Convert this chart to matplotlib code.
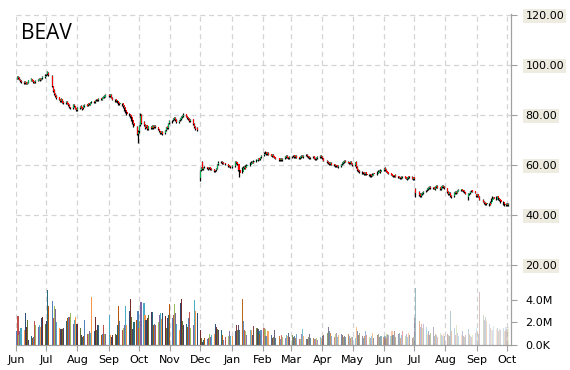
import matplotlib
matplotlib.use('Agg')
import matplotlib.pyplot as plt
import matplotlib.dates as mdates
from matplotlib.colors import to_rgba
import numpy as np
import pandas as pd

ticker = 'BEAV'
first_day = '2014-06-02'
holidays = ['2014-07-04', '2014-09-01', '2014-11-27', '2014-12-25', '2015-01-01', '2015-01-19',
            '2015-02-16', '2015-04-03', '2015-05-25', '2015-07-03', '2015-09-07']

# daily prices, one line per month (Jun 2014 .. Oct 2015)
opens = [
    94.6, 95.2, 94.9, 94.0, 93.6, 93.4, 92.8, 93.2, 92.5, 93.0, 93.8, 94.4, 93.9, 93.3, 93.1, 93.7, 94.1, 94.6, 94.1, 94.7, 95.2,
    95.9, 96.3, 97.0, 95.6, 91.4, 89.9, 88.6, 87.7, 87.1, 86.3, 85.7, 86.3, 85.1, 84.7, 85.3, 84.7, 84.1, 83.0, 82.9, 84.1, 83.4, 82.7,
    82.1, 82.9, 83.5, 83.1, 82.7, 83.6, 84.2, 83.9, 84.7, 84.2, 85.1, 85.5, 85.2, 85.9, 86.3, 86.1, 86.7, 86.2, 87.0, 87.3, 87.4,
    87.9, 87.7, 88.1, 86.9, 86.3, 85.5, 85.8, 84.9, 84.4, 84.7, 83.9, 83.1, 81.9, 81.1, 80.5, 79.9, 79.3, 77.9, 76.7, 75.3, 72.4,
    73.6, 76.0, 80.2, 77.1, 76.1, 75.1, 75.9, 74.5, 75.3, 74.9, 75.5, 75.1, 75.7, 75.1, 74.3, 73.5, 72.9, 73.3, 72.7, 73.9, 75.1, 74.9, 76.7,
    77.5, 77.9, 78.3, 78.9, 78.1, 77.1, 77.9, 78.5, 79.3, 79.7, 80.3, 79.5, 78.9, 78.5, 77.7, 78.3, 76.5, 75.3, 74.8,
    54.8, 58.0, 61.2, 58.6, 59.1, 59.1, 58.9, 58.7, 59.1, 58.5, 58.3, 57.5, 57.9, 58.5, 60.3, 61.1, 61.3, 60.9, 60.7, 60.3, 59.7, 59.5,
    59.3, 59.7, 61.3, 61.1, 60.3, 58.1, 57.1, 58.9, 59.3, 58.7, 59.7, 60.1, 60.9, 61.3, 61.1, 61.7, 62.1, 62.7, 62.3, 63.1,
    63.9, 64.7, 65.1, 64.3, 64.9, 64.3, 63.7, 64.1, 63.5, 63.1, 62.7, 62.1, 62.5, 62.1, 62.7, 63.3, 63.7, 63.1, 62.7,
    63.1, 63.5, 63.9, 63.1, 63.7, 63.1, 62.7, 63.3, 63.7, 63.3, 63.9, 64.1, 63.5, 63.3, 62.7, 63.1, 63.5, 62.5, 62.5, 62.9, 63.3, 63.7,
    63.3, 62.7, 61.7, 61.3, 60.9, 60.3, 60.9, 60.3, 60.1, 59.5, 59.9, 59.3, 59.7, 60.3, 60.9, 61.3, 61.7, 61.3, 60.9, 60.7, 61.3,
    60.5, 60.1, 61.1, 59.3, 58.1, 57.7, 57.3, 56.9, 56.5, 57.1, 56.5, 56.3, 56.1, 55.5, 56.1, 56.7, 56.3, 57.1, 57.7, 57.3,
    58.1, 58.8, 58.1, 57.5, 57.1, 56.7, 56.3, 55.9, 55.5, 56.0, 55.5, 55.3, 55.1, 54.7, 55.1, 55.5, 55.1, 54.5, 54.9, 55.5, 55.3, 54.5,
    55.1, 50.6, 49.1, 48.3, 47.7, 48.5, 48.9, 49.5, 49.9, 50.5, 50.9, 51.3, 50.7, 51.1, 50.5, 51.3, 51.7, 51.1, 50.5, 51.3, 51.7, 51.3,
    50.7, 49.3, 48.3, 48.9, 47.7, 47.5, 48.9, 49.3, 48.9, 49.7, 50.1, 50.3, 49.9, 49.7, 49.1, 47.2, 48.5, 48.7, 49.5, 49.9, 49.5,
    48.3, 47.7, 48.3, 47.3, 46.1, 45.3, 44.9, 44.3, 44.7, 44.3, 45.3, 46.5, 47.1, 46.5, 47.5, 46.9, 46.3, 45.9, 45.3, 44.3, 43.9,
    44.5, 43.9,
]
highs = [
    95.6, 95.5, 95.1, 94.3, 93.9, 93.6, 93.5, 93.4, 93.1, 94.2, 94.7, 94.6, 94.1, 93.5, 93.9, 94.5, 94.9, 94.8, 94.9, 95.6, 96.3,
    96.6, 97.6, 97.3, 95.9, 91.8, 90.3, 88.9, 88.0, 87.4, 86.6, 86.8, 86.6, 85.5, 85.6, 85.6, 85.0, 84.4, 83.4, 84.6, 84.5, 83.8, 83.0,
    83.3, 83.8, 83.9, 83.4, 83.9, 84.5, 84.5, 85.0, 85.0, 85.4, 85.8, 85.8, 86.2, 86.6, 86.6, 87.0, 87.0, 87.3, 87.6, 87.9, 88.4,
    88.3, 88.6, 88.4, 87.2, 86.6, 86.2, 86.1, 85.2, 85.1, 85.0, 84.2, 83.4, 82.3, 81.5, 80.9, 80.2, 79.6, 78.3, 77.0, 75.6, 74.0,
    76.1, 80.8, 80.6, 77.5, 76.5, 76.2, 76.2, 75.8, 75.6, 75.9, 75.9, 76.2, 76.0, 75.4, 74.6, 73.8, 73.8, 73.7, 74.2, 75.4, 75.5, 77.0, 78.0,
    78.2, 78.8, 79.2, 79.2, 78.4, 78.2, 79.0, 79.6, 80.2, 80.9, 80.6, 79.8, 79.2, 78.8, 78.6, 78.6, 76.9, 75.8, 75.1,
    58.2, 59.4, 61.8, 59.4, 59.6, 59.4, 59.2, 59.3, 59.4, 58.8, 58.6, 58.2, 58.8, 60.6, 61.5, 61.7, 61.6, 61.2, 60.9, 60.6, 60.0, 59.8,
    60.0, 61.6, 61.6, 61.4, 60.6, 58.4, 59.2, 59.6, 59.6, 59.9, 60.4, 61.2, 61.6, 61.6, 61.9, 62.4, 63.0, 63.0, 63.4, 64.2,
    65.4, 65.5, 65.4, 65.1, 65.2, 64.5, 64.3, 64.4, 63.7, 63.4, 62.9, 62.8, 62.7, 62.9, 63.5, 63.9, 64.0, 63.4, 63.5,
    63.7, 64.1, 64.2, 63.9, 64.0, 63.4, 63.5, 63.9, 64.0, 64.1, 64.4, 64.4, 63.8, 63.6, 63.3, 63.7, 63.8, 62.9, 63.1, 63.5, 63.9, 64.0,
    63.6, 63.0, 62.0, 61.6, 61.2, 61.1, 61.2, 60.6, 60.4, 60.1, 60.2, 59.9, 60.5, 61.1, 61.5, 61.9, 62.0, 61.6, 61.2, 61.5, 61.6,
    60.9, 61.4, 61.6, 59.6, 58.4, 58.0, 57.6, 57.2, 57.3, 57.4, 56.8, 56.6, 56.4, 56.5, 56.9, 57.0, 57.5, 57.9, 58.0, 58.3,
    58.9, 59.1, 58.3, 57.8, 57.4, 57.0, 56.6, 56.2, 56.2, 56.3, 55.8, 55.6, 55.4, 55.5, 55.7, 55.8, 55.4, 55.3, 55.7, 55.8, 55.6, 55.3,
    55.4, 51.0, 49.5, 48.7, 48.8, 49.2, 49.8, 50.2, 50.8, 51.2, 51.6, 51.6, 51.4, 51.4, 51.6, 52.0, 52.0, 51.4, 51.6, 52.0, 52.0, 51.6,
    50.9, 49.6, 49.2, 49.1, 48.0, 49.1, 49.6, 49.5, 49.9, 50.4, 50.6, 50.5, 50.1, 49.9, 49.4, 48.8, 49.0, 49.8, 50.2, 50.1, 49.7,
    48.6, 48.6, 48.6, 47.6, 46.4, 45.6, 45.2, 44.9, 45.0, 45.5, 46.8, 47.6, 47.4, 47.8, 47.8, 47.2, 46.6, 46.2, 45.6, 44.7, 45.0,
    44.8, 44.7,
]
lows = [
    94.3, 94.5, 94.0, 93.3, 92.9, 92.6, 92.6, 92.4, 92.3, 92.8, 93.6, 93.6, 93.0, 92.7, 92.9, 93.5, 93.9, 93.8, 93.9, 94.5, 95.0,
    95.6, 96.0, 95.7, 91.1, 89.4, 88.2, 87.3, 86.6, 85.9, 85.4, 85.4, 84.7, 84.4, 84.5, 84.3, 83.7, 82.8, 82.4, 82.6, 83.2, 82.3, 81.6,
    81.6, 82.5, 82.7, 82.2, 82.4, 83.3, 83.5, 83.6, 84.0, 84.0, 84.8, 84.8, 84.9, 85.6, 85.7, 85.8, 86.0, 86.0, 86.7, 87.0, 87.1,
    87.4, 87.4, 86.7, 85.9, 85.2, 85.2, 84.7, 84.1, 84.1, 83.7, 82.9, 81.7, 80.9, 80.2, 79.6, 79.0, 77.6, 76.4, 75.1, 72.0, 68.8,
    72.8, 75.6, 76.6, 75.8, 74.6, 74.8, 74.2, 74.2, 74.5, 74.6, 74.6, 74.8, 74.8, 74.0, 73.2, 72.4, 72.5, 72.2, 72.4, 73.6, 74.4, 74.6, 76.3,
    77.0, 77.6, 78.0, 77.7, 76.8, 76.8, 77.6, 78.2, 79.0, 79.4, 79.1, 78.4, 78.0, 77.4, 77.4, 76.0, 74.9, 74.2, 73.8,
    53.8, 57.6, 58.0, 58.2, 58.7, 58.5, 58.2, 58.4, 58.1, 57.9, 57.2, 57.2, 57.6, 58.3, 60.0, 60.8, 60.5, 60.3, 60.1, 59.3, 59.1, 58.9,
    58.9, 59.4, 60.6, 60.1, 57.6, 55.2, 56.8, 58.6, 58.3, 58.4, 59.4, 59.8, 60.6, 60.7, 60.8, 61.4, 61.8, 61.9, 62.0, 62.8,
    63.6, 64.3, 64.1, 64.0, 63.9, 63.5, 63.4, 63.1, 62.7, 62.3, 61.8, 61.8, 61.7, 61.8, 62.4, 63.0, 62.7, 62.4, 62.4,
    62.8, 63.2, 62.9, 62.8, 62.7, 62.5, 62.4, 63.0, 63.1, 63.0, 63.6, 63.3, 62.9, 62.5, 62.4, 62.8, 62.3, 62.0, 62.2, 62.6, 63.0, 62.9,
    62.4, 61.5, 60.9, 60.5, 60.1, 60.0, 60.0, 59.7, 59.3, 59.2, 59.1, 59.0, 59.4, 60.0, 60.6, 61.0, 61.1, 60.7, 60.5, 60.4, 60.3,
    59.8, 59.8, 58.8, 57.7, 57.2, 56.9, 56.5, 56.3, 56.2, 56.1, 55.9, 55.7, 55.2, 55.2, 55.8, 56.1, 56.0, 56.8, 57.1, 57.0,
    57.8, 57.8, 57.1, 56.7, 56.3, 55.9, 55.5, 55.3, 55.2, 55.1, 54.9, 54.7, 54.5, 54.4, 54.8, 54.7, 54.3, 54.2, 54.6, 54.9, 54.3, 54.2,
    54.2, 47.2, 47.8, 47.3, 47.4, 48.1, 48.6, 49.2, 49.6, 50.2, 50.6, 50.4, 50.4, 50.3, 50.2, 51.0, 50.7, 50.2, 50.2, 50.9, 50.9, 50.4,
    48.9, 48.1, 48.0, 47.2, 46.8, 47.3, 48.6, 48.6, 48.7, 49.5, 49.8, 49.5, 49.3, 48.9, 48.3, 46.2, 48.0, 48.4, 49.2, 49.1, 48.7,
    47.4, 47.4, 47.1, 45.9, 45.1, 44.5, 44.0, 44.0, 43.8, 44.0, 45.1, 46.3, 46.3, 46.2, 46.5, 46.1, 45.5, 44.9, 44.1, 43.6, 43.6,
    43.6, 43.5,
]
closes = [
    95.0, 94.8, 94.2, 93.5, 93.2, 92.9, 93.1, 92.6, 92.8, 93.9, 94.3, 93.8, 93.2, 93.0, 93.6, 94.2, 94.5, 94.0, 94.6, 95.3, 95.8,
    96.2, 97.1, 96.0, 91.5, 89.8, 88.5, 87.6, 87.0, 86.2, 85.8, 86.4, 85.0, 84.8, 85.2, 84.6, 84.0, 83.1, 82.8, 84.2, 83.5, 82.6, 82.0,
    82.8, 83.4, 83.0, 82.6, 83.5, 84.1, 83.8, 84.6, 84.3, 85.0, 85.4, 85.1, 85.8, 86.2, 86.0, 86.6, 86.3, 86.9, 87.2, 87.5, 87.9,
    87.8, 88.2, 87.0, 86.2, 85.6, 85.9, 85.0, 84.5, 84.8, 84.0, 83.2, 82.0, 81.2, 80.6, 80.0, 79.4, 78.0, 76.8, 75.5, 72.6, 73.4,
    75.6, 79.8, 77.0, 76.2, 75.0, 75.8, 74.6, 75.4, 74.8, 75.6, 75.0, 75.8, 75.2, 74.4, 73.6, 72.8, 73.4, 72.6, 73.8, 75.0, 74.8, 76.6, 77.6,
    77.8, 78.4, 78.8, 78.0, 77.2, 77.8, 78.6, 79.2, 79.8, 80.2, 79.4, 78.8, 78.4, 77.8, 78.2, 76.4, 75.2, 74.6, 74.2,
    57.8, 59.0, 58.4, 59.0, 59.2, 58.8, 58.6, 59.0, 58.4, 58.2, 57.6, 57.8, 58.4, 60.2, 61.0, 61.2, 60.8, 60.6, 60.4, 59.6, 59.4, 59.2,
    59.6, 61.2, 61.0, 60.4, 58.0, 57.0, 58.8, 59.2, 58.6, 59.6, 60.0, 60.8, 61.2, 61.0, 61.6, 62.0, 62.6, 62.2, 63.0, 63.8,
    64.6, 65.0, 64.4, 64.8, 64.2, 63.8, 64.0, 63.4, 63.0, 62.6, 62.2, 62.4, 62.0, 62.6, 63.2, 63.6, 63.0, 62.8, 63.2,
    63.4, 63.8, 63.2, 63.6, 63.0, 62.8, 63.2, 63.6, 63.4, 63.8, 64.0, 63.6, 63.2, 62.8, 63.0, 63.4, 62.6, 62.4, 62.8, 63.2, 63.6, 63.2,
    62.8, 61.8, 61.2, 60.8, 60.4, 60.8, 60.2, 60.0, 59.6, 59.8, 59.4, 59.6, 60.2, 60.8, 61.2, 61.6, 61.4, 61.0, 60.8, 61.2, 60.6,
    60.2, 61.0, 59.2, 58.0, 57.6, 57.2, 56.8, 56.6, 57.0, 56.4, 56.2, 56.0, 55.6, 56.2, 56.6, 56.4, 57.2, 57.6, 57.4, 58.0,
    58.6, 58.0, 57.4, 57.0, 56.6, 56.2, 55.8, 55.6, 55.9, 55.4, 55.2, 55.0, 54.8, 55.2, 55.4, 55.0, 54.6, 55.0, 55.4, 55.2, 54.6, 55.0,
    54.6, 49.0, 48.2, 47.8, 48.4, 48.8, 49.4, 49.8, 50.4, 50.8, 51.2, 50.8, 51.0, 50.6, 51.2, 51.6, 51.0, 50.6, 51.2, 51.6, 51.2, 50.8,
    49.2, 48.4, 48.8, 47.6, 47.4, 48.8, 49.2, 49.0, 49.6, 50.0, 50.2, 49.8, 49.6, 49.2, 48.6, 48.4, 48.6, 49.4, 49.8, 49.4, 49.0,
    47.8, 48.2, 47.4, 46.2, 45.4, 44.8, 44.4, 44.6, 44.2, 45.2, 46.4, 47.0, 46.6, 47.4, 46.8, 46.4, 45.8, 45.2, 44.4, 44.0, 44.6,
    44.0, 44.4,
]
# volume in millions
volumes = [
    1.2, 2.6, 0.9, 1.2, 1.5, 1.3, 2.8, 1.6, 2.2, 0.4, 0.8, 0.6, 0.7, 2.1, 1.8, 1.6, 1.8, 1.6, 2.4, 2.5, 1.9,
    2.1, 4.9, 3.5, 3.9, 2.4, 3.5, 3.2, 2.0, 1.5, 1.4, 1.4, 1.4, 1.5, 2.1, 2.4, 2.5, 2.5, 2.8, 1.9, 2.2, 2.5, 1.9,
    1.9, 1.5, 0.9, 0.7, 0.8, 2.2, 1.0, 1.0, 1.2, 1.1, 4.3, 1.2, 2.5, 1.3, 1.8, 1.8, 0.9, 1.0, 1.8, 1.0, 1.0,
    2.7, 0.9, 0.7, 0.9, 1.0, 0.9, 1.8, 3.5, 2.1, 1.3, 1.5, 1.8, 3.5, 1.8, 3.0, 4.1, 2.5, 1.4, 2.0, 2.2, 3.0,
    1.5, 2.1, 3.8, 3.7, 2.7, 2.2, 2.4, 2.7, 2.9, 2.9, 1.8, 1.9, 1.8, 2.0, 2.7, 2.8, 2.3, 2.8, 2.6, 1.5, 2.4, 2.7, 3.6,
    2.4, 2.7, 3.6, 2.8, 1.9, 1.3, 3.7, 4.1, 2.1, 1.8, 1.9, 1.6, 2.4, 2.9, 1.5, 1.8, 4.0, 3.0, 2.8,
    1.3, 0.6, 0.3, 0.4, 0.6, 0.5, 0.6, 1.0, 0.7, 0.9, 1.0, 1.9, 1.6, 1.4, 1.3, 1.3, 0.9, 0.4, 0.7, 0.8, 1.2, 0.8,
    0.8, 1.2, 1.8, 1.3, 1.8, 1.3, 4.1, 2.1, 1.3, 1.2, 0.9, 1.3, 1.3, 0.9, 1.7, 1.5, 1.4, 1.2, 1.0, 1.3,
    1.5, 1.4, 0.8, 0.7, 1.2, 0.9, 0.6, 0.7, 1.3, 0.6, 0.8, 0.5, 0.9, 0.7, 0.6, 0.9, 0.8, 1.1, 0.7,
    0.9, 0.7, 0.8, 0.6, 1.0, 0.5, 0.5, 1.0, 1.4, 0.8, 0.5, 0.5, 0.7, 1.0, 0.6, 0.6, 0.5, 0.5, 0.6, 0.4, 0.7, 0.6,
    0.8, 0.9, 1.1, 1.6, 1.2, 1.1, 0.8, 0.7, 1.0, 1.1, 0.7, 0.9, 1.0, 0.9, 0.7, 0.8, 0.7, 1.0, 0.8, 0.6, 0.7,
    0.7, 0.6, 1.6, 1.2, 0.9, 1.1, 0.8, 0.6, 0.8, 1.2, 0.9, 0.7, 0.6, 0.8, 1.1, 0.6, 0.9, 1.0, 0.7, 0.8,
    0.7, 0.8, 0.6, 1.0, 0.9, 0.8, 1.2, 0.9, 1.2, 0.7, 1.0, 1.1, 0.6, 0.9, 1.2, 0.8, 1.0, 0.7, 1.1, 0.9, 0.6, 0.7,
    2.4, 5.1, 2.1, 1.6, 1.9, 1.5, 1.9, 1.6, 1.0, 1.2, 0.9, 1.1, 1.6, 0.8, 1.0, 0.9, 0.7, 1.1, 0.9, 0.8, 1.0, 0.8,
    1.0, 0.9, 0.8, 3.0, 1.2, 1.5, 0.9, 1.8, 1.1, 0.8, 0.9, 1.2, 0.8, 0.7, 0.9, 1.4, 1.0, 0.8, 0.7, 0.9, 1.1,
    1.5, 1.2, 1.0, 4.7, 2.7, 2.2, 2.5, 2.1, 1.9, 1.5, 1.3, 1.3, 1.7, 1.4, 1.5, 1.2, 1.4, 1.3, 1.5, 1.2, 1.6,
    1.4, 1.6,
]
price_ticks = [20, 40, 60, 80, 100, 120]
volume_ticks = [0, 2, 4]
volume_labels = ['0.0K', '2.0M', '4.0M']

vol_palette = ['#4f81bd', '#c0504d', '#9bbb59', '#8064a2', '#4bacc6', '#f79646',
               '#2c4d75', '#772c2a', '#5f7530', '#4d3b62', '#276a7c', '#b65708']
up_color = '#00b050'
down_color = '#ff0000'
grid_color = '#d4d4d4'
axis_color = '#a0a0a0'

n = len(closes)
assert len(opens) == n and len(highs) == n and len(lows) == n and len(volumes) == n
dates = pd.bdate_range(first_day, periods=n, freq='C', holidays=holidays)
x = mdates.date2num(dates.to_pydatetime())
o = np.array(opens)
h = np.array(highs)
l = np.array(lows)
c = np.array(closes)

fig = plt.figure(figsize=(5.7, 3.7), dpi=100)
ax = fig.add_axes([16 / 570, 1 - 345 / 370, (511 - 16) / 570, (345 - 14) / 370])
axv = ax.twinx()

# candles
up = c >= o
body_col = np.where(up, up_color, down_color)
ax.vlines(x - 0.45, l, h, color='black', lw=0.9, zorder=3)
ax.bar(x + 0.2, np.maximum(np.abs(c - o), 0.25), bottom=np.minimum(o, c), width=1.0,
       color=body_col, linewidth=0, zorder=4)

# volume bars, fading out over time
alphas = np.clip(np.linspace(1.5, 0.2, n), 0, 1)
vcols = [to_rgba(vol_palette[i % len(vol_palette)], alphas[i]) for i in range(n)]
axv.bar(x, volumes, width=1.1, color=vcols, linewidth=0)

ax.set_xlim(mdates.date2num(pd.Timestamp('2014-06-01')), mdates.date2num(pd.Timestamp('2015-10-05')))
ax.set_ylim(-12, 120.4)
axv.set_ylim(0, 29.4)

ax.xaxis.set_major_locator(mdates.MonthLocator())
ax.xaxis.set_major_formatter(mdates.DateFormatter('%b'))
ax.set_yticks(price_ticks)
ax.set_yticklabels(['%.2f' % t for t in price_ticks])
axv.set_yticks(volume_ticks)
axv.set_yticklabels(volume_labels)

ax.yaxis.tick_right()
ax.tick_params(axis='y', length=4, color=axis_color, pad=6.5, labelsize=8, labelcolor='black')
axv.tick_params(axis='y', length=4, color=axis_color, pad=6.5, labelsize=8, labelcolor='black')
ax.tick_params(axis='x', length=4, color=axis_color, pad=3, labelsize=8, labelcolor='black')
for lbl in ax.get_yticklabels():
    lbl.set_bbox(dict(facecolor='#eeebe1', edgecolor='none', pad=1.5))

ax.grid(True, linestyle=(0, (4, 3)), color=grid_color, lw=0.9)
ax.set_axisbelow(True)

for a in (ax, axv):
    a.spines['top'].set_visible(False)
    a.spines['left'].set_visible(False)
    a.spines['right'].set_color(axis_color)
    a.spines['bottom'].set_color(axis_color)

ax.text(0.010, 0.9245, ticker, transform=ax.transAxes, fontsize=15, family='Open Sans',
        va='baseline', ha='left')

plt.savefig('out.png', dpi=100)
